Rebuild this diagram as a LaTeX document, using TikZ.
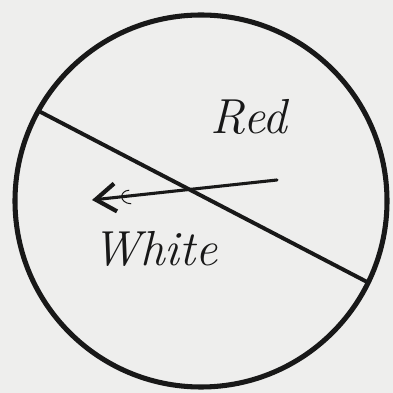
\documentclass[tikz,border=0pt]{standalone}
\usetikzlibrary{arrows.meta,positioning,calc}
\definecolor{PaperGray}{RGB}{238,238,237}
\definecolor{InkDark}{RGB}{24,24,24}

\begin{document}
\begin{tikzpicture}[
    disc/.style={circle,draw=InkDark,line width=3.6pt,minimum size=9.3cm,
      inner sep=0pt,outer sep=0pt},
    divider/.style={draw=InkDark,line width=2.8pt,line cap=round},
    wind/.style={-{Straight Barb[length=5mm,width=7mm,line width=3pt]},
      draw=InkDark,line width=2.2pt,line cap=round},
    hand/.style={text=InkDark,font=\fontsize{35}{42}\selectfont\itshape,inner sep=0pt}
  ]
  \useasboundingbox[fill=PaperGray] (-5.025,-4.8) rectangle (4.8,5.025);
  \node[disc] (dial) at (0,0) {};
  % the two halves
  \draw[divider] (dial.151.9) -- (dial.-26.7);
  \coordinate (tail) at (1.9,0.525);
  \coordinate (head) at (-2.725,0.025);
  \draw[wind] (tail) -- (head);
  \coordinate (hook) at (-1.8,0.27);
  \draw[InkDark,line width=0.7pt,line cap=round] (hook) .. controls (-2.05,0.25) and (-2.05,-0.05) .. (-1.75,-0.07);
  \node[hand] (red) at (1.2,2.1) {Red};
  \node[hand] (white) at (-1.15,-1.2) {White};
\end{tikzpicture}
\end{document}
